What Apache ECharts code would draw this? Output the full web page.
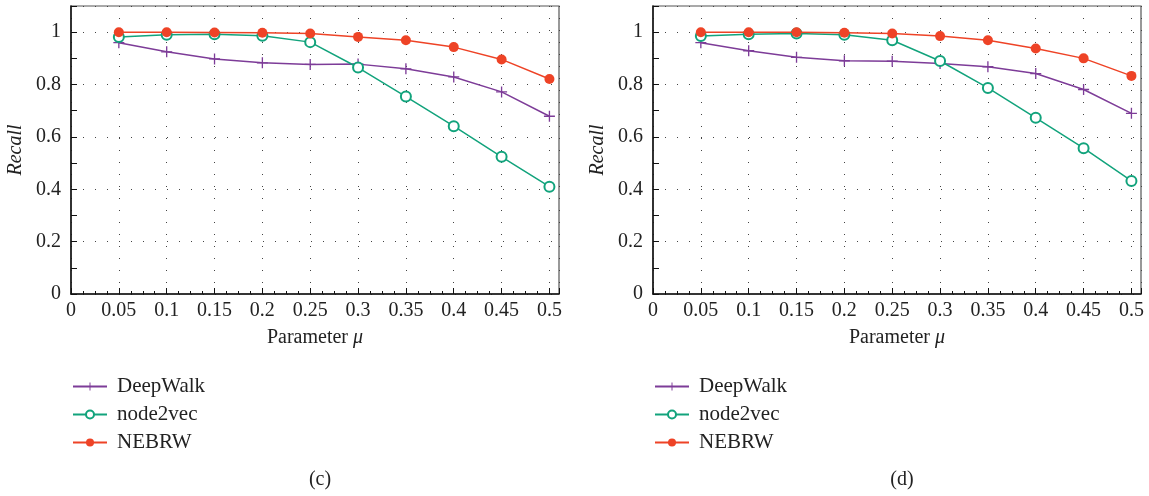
<!DOCTYPE html>
<html>
<head>
<meta charset="utf-8">
<script src="https://cdn.jsdelivr.net/npm/echarts@6/dist/echarts.min.js"></script>
<style>
  html, body { margin: 0; padding: 0; background: #fff; }
  #chart { width: 1149px; height: 496px; }
</style>
</head>
<body>
<div id="chart"></div>
<script>
// 参数 mu
const mu = [0.05, 0.1, 0.15, 0.2, 0.25, 0.3, 0.35, 0.4, 0.45, 0.5];

// (c)
const deepwalkC = [0.96, 0.925, 0.898, 0.883, 0.877, 0.878, 0.86, 0.829, 0.772, 0.679];
const node2vecC = [0.982, 0.99, 0.992, 0.986, 0.962, 0.865, 0.754, 0.641, 0.524, 0.41];
const nebrwC = [1.0, 1.0, 0.999, 0.998, 0.995, 0.982, 0.969, 0.943, 0.896, 0.821];

// (d)
const deepwalkD = [0.96, 0.929, 0.904, 0.891, 0.889, 0.88, 0.868, 0.842, 0.781, 0.69];
const node2vecD = [0.985, 0.992, 0.995, 0.99, 0.969, 0.89, 0.787, 0.673, 0.557, 0.432];
const nebrwD = [1.0, 1.0, 1.0, 0.998, 0.995, 0.985, 0.969, 0.938, 0.9, 0.833];

const seriesNames = ['DeepWalk', 'node2vec', 'NEBRW'];
const captions = ['(c)', '(d)'];

const FONT = '"Liberation Serif", "DejaVu Serif", serif';
const colors = ['#7d3c98', '#12a37c', '#ee4326'];
const plusSymbol = 'path://M4.4,0h1.2v10h-1.2zM0,4.4h10v1.2h-10z';

const chart = echarts.init(document.getElementById('chart'));

function pairs(vals) {
  return mu.map((m, i) => [m, vals[i]]);
}

const gridLeft = [71, 653];
const grids = gridLeft.map(l => ({ left: l, top: 6, width: 488, height: 288, show: true, borderColor: '#555', borderWidth: 1.2 }));

const dotted = { show: true, lineStyle: { color: '#444', type: [1, 11], width: 1 } };

const xAxes = gridLeft.map((l, i) => ({
  type: 'value', gridIndex: i, min: 0, max: 0.51, interval: 0.05,
  name: 'Parameter {i|μ}', nameLocation: 'middle', nameGap: 34,
  nameTextStyle: { fontFamily: FONT, fontSize: 20, color: '#222', rich: { i: { fontFamily: FONT, fontStyle: 'italic', fontSize: 20, color: '#222' } } },
  axisLine: { show: true, onZero: false, lineStyle: { color: '#111', width: 1.5 } },
  axisTick: { show: true, inside: true, length: 6, lineStyle: { color: '#111' } },
  minorTick: { show: true, splitNumber: 4, length: 3, lineStyle: { color: '#111' } },
  axisLabel: { fontFamily: FONT, fontSize: 20, color: '#222', margin: 7, showMaxLabel: false,
    formatter: v => String(+v.toFixed(2)) },
  splitLine: dotted
}));

const yAxes = gridLeft.map((l, i) => ({
  type: 'value', gridIndex: i, min: 0, max: 1.1, interval: 0.2,
  name: 'Recall', nameLocation: 'middle', nameGap: 45,
  nameTextStyle: { fontFamily: FONT, fontSize: 20, fontStyle: 'italic', color: '#222' },
  axisLine: { show: true, onZero: false, lineStyle: { color: '#111', width: 1.5 } },
  axisTick: { show: true, inside: true, length: 6, lineStyle: { color: '#111' } },
  minorTick: { show: true, splitNumber: 2, length: 6, lineStyle: { color: '#111' } },
  axisLabel: { fontFamily: FONT, fontSize: 20, color: '#222', margin: 10, showMaxLabel: false,
    formatter: v => String(+v.toFixed(1)) },
  splitLine: dotted
}));

const dataSets = [[deepwalkC, node2vecC, nebrwC], [deepwalkD, node2vecD, nebrwD]];
const symbols = [plusSymbol, 'emptyCircle', 'circle'];
const sizes = [11, 10, 10];

const series = [];
dataSets.forEach((set, g) => {
  set.forEach((vals, k) => {
    series.push({
      name: seriesNames[k], type: 'line', xAxisIndex: g, yAxisIndex: g,
      data: pairs(vals), symbol: symbols[k], symbolSize: sizes[k],
      showAllSymbol: true, z: 3 + k,
      lineStyle: { color: colors[k], width: 1.5 },
      itemStyle: { color: colors[k], borderColor: colors[k], borderWidth: k === 1 ? 1.5 : 0 },
      emphasis: { disabled: true }
    });
  });
});

const legends = gridLeft.map(l => ({
  orient: 'vertical', left: l - 4, top: 371, itemWidth: 34, itemHeight: 10, itemGap: 7,
  textStyle: { fontFamily: FONT, fontSize: 21, color: '#222', padding: [0, 0, 0, 5] },
  data: seriesNames, selectedMode: false
}));

const titles = captions.map((c, i) => ({
  text: c, left: gridLeft[i] + 244, top: 465, textAlign: 'center',
  textStyle: { fontFamily: FONT, fontSize: 20, fontWeight: 'normal', color: '#222' }
}));

chart.setOption({
  animation: false,
  title: titles,
  legend: legends,
  grid: grids,
  xAxis: xAxes,
  yAxis: yAxes,
  series: series
});
</script>
</body>
</html>
